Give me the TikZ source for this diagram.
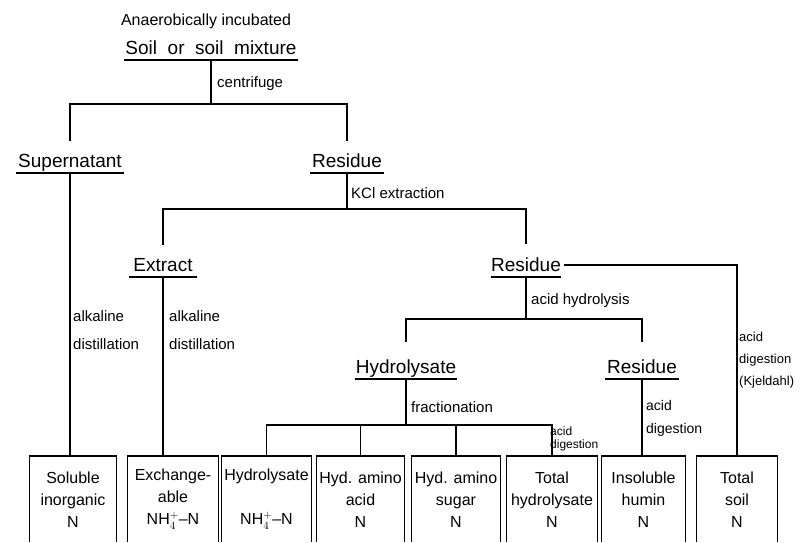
\documentclass[tikz,border=0pt]{standalone}
\usepackage{fontspec}
\setmainfont{Liberation Sans}
\tikzstyle{stage} = [inner xsep=0pt, inner ysep=5pt, text depth=0pt, anchor=south, font=\fontsize{19}{22}\selectfont, append after command={(\tikzlastnode.south west) edge[line width=1.8pt] (\tikzlastnode.south east)}]
\tikzstyle{result} = [anchor=north, inner sep=0pt, minimum height=86pt, align=center, font=\fontsize{16}{22}\selectfont]
\tikzstyle{treat} = [anchor=west, inner sep=0pt, align=left, font=\fontsize{15}{28}\selectfont]
\tikzstyle{link} = [line width=1.3pt]
\begin{document}
\begin{tikzpicture}[x=1pt, y=-1pt]
\useasboundingbox (0,0) rectangle (800,542);

% Stages of the separation
\node (title) [font=\fontsize{16}{20}\selectfont] at (206,21) {Anaerobically incubated};
\node (soil) [stage, minimum width=173pt] at (211,60) {Soil~~or~~soil~~mixture};
\node (super) [stage, minimum width=108pt] at (70,173) {Supernatant};
\node (res1) [stage, minimum width=73pt] at (347,173) {Residue};
\node (extract) [stage, minimum width=68pt] at (163,277) {Extract};
\node (res2) [stage, minimum width=70pt] at (526,277) {Residue};
\node (hydro) [stage, minimum width=101pt] at (406,379) {Hydrolysate};
\node (res3) [stage, minimum width=74pt] at (642,379) {Residue};

% Nitrogen fractions
\node (soluble) [result, minimum width=86pt] at (73,456) {Soluble\\inorganic\\N};
\node (exch) [result, minimum width=90pt] at (173,456) {Exchange-\\able\\NH$_4^+$--N};
\node (hydnh) [result, minimum width=89pt] at (266.5,456) {Hydrolysate\\[22pt]NH$_4^+$--N};
\node (aminoacid) [result, minimum width=87pt] at (360.5,456) {Hyd. amino\\acid\\N};
\node (aminosugar) [result, minimum width=88pt] at (456,456) {Hyd. amino\\sugar\\N};
\node (tothyd) [result, minimum width=90pt] at (552,456) {Total\\hydrolysate\\N};
\node (humin) [result, minimum width=83pt] at (643.5,456) {Insoluble\\humin\\N};
\node (totsoil) [result, minimum width=80pt] at (737,456) {Total\\soil\\N};
\foreach \b in {soluble, exch, hydnh, aminoacid, aminosugar, tothyd, humin, totsoil}
  \draw[link] (\b.south west) -- (\b.north west) -- (\b.north east) -- (\b.south east);

% Treatments
\node (cfglbl) [treat] at (217,84) {centrifuge};
\node (kcllbl) [treat] at (351,193) {KCl extraction};
\node (alk1) [treat] at (73,330) {alkaline\\distillation};
\node (alk2) [treat] at (169,330) {alkaline\\distillation};
\node (acidhyd) [treat] at (531,301) {acid hydrolysis};
\node (fraclbl) [treat] at (411,407) {fractionation};
\node (dig1) [treat, font=\fontsize{14}{23}\selectfont] at (646,418) {acid\\digestion};
\node (dig2) [treat, font=\fontsize{12}{13}\selectfont] at (550,439) {acid\\digestion};
\node (kjel) [treat, font=\fontsize{13}{22}\selectfont] at (739,360) {acid\\digestion\\(Kjeldahl)};

% Connectors
\draw[link] (soil.south) -- ++(0,44) coordinate (cfg);
\draw[link, shorten >=8pt] (cfg) -| (super.north);
\draw[link, shorten >=8pt] (cfg) -| (res1.north);
\draw[link] (super.south) -- (super.south |- soluble.north);
\draw[link] (res1.south) -- ++(0,36) coordinate (kcl);
\draw[link, shorten >=9pt] (kcl) -| (extract.north);
\draw[link, shorten >=9pt] (kcl) -| (res2.north);
\draw[link] (extract.south) -- (extract.south |- exch.north);
\draw[link] (res2.south) -- ++(0,42) coordinate (hyd);
\draw[link, shorten >=13pt] (hyd) -| (hydro.north);
\draw[link, shorten >=13pt] (hyd) -| (res3.north);
\draw[link, shorten <=3pt] (res2.east) -| (totsoil.north);
\draw[link] (res3.south) -- (res3.south |- humin.north);
\draw[link] (hydro.south) -- ++(0,46) coordinate (frac);
\draw[link] (hydnh.north) |- (frac) -| (tothyd.north);
\foreach \b in {aminoacid, aminosugar}
  \draw[link] (\b.north) -- (\b.north |- frac);

\end{tikzpicture}
\end{document}
